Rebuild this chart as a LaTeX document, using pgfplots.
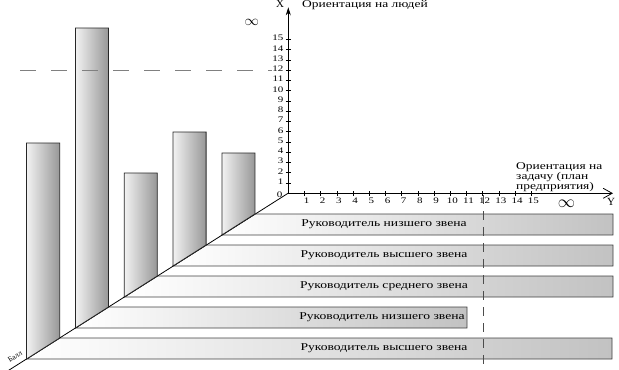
\documentclass[border=0pt]{standalone}
\usepackage{fontspec}
\setmainfont{Liberation Serif}
\newfontfamily\wideserif[FakeStretch=1.3]{Liberation Serif}
\usepackage{pgfplots}
\pgfplotsset{compat=1.18}
\usetikzlibrary{arrows.meta}
\definecolor{stripR}{HTML}{C2C2C2}
\definecolor{barL}{HTML}{F2F2F2}
\definecolor{barR}{HTML}{979797}
\begin{document}
\begin{tikzpicture}
% ---------- pixel-space layer: the floor strips, columns and guide lines ----------
\begin{axis}[
  at={(0,0)}, anchor=south west,
  scale only axis, width=619bp, height=370bp,
  xmin=0, xmax=619, ymin=0, ymax=370, y dir=reverse,
  hide axis, clip=false]
\addplot[draw=none] coordinates {(0,0) (619,370)};
% strips (Y direction: orientation on task)
\addplot[draw=black!75, line width=0.9pt, left color=white, right color=stripR] coordinates {(254.9,214) (613,214) (613,235) (221.9,235)} -- cycle;
\addplot[draw=black!75, line width=0.9pt, left color=white, right color=stripR] coordinates {(206.1,245) (613,245) (613,266) (173.0,266)} -- cycle;
\addplot[draw=black!75, line width=0.9pt, left color=white, right color=stripR] coordinates {(157.3,276) (613,276) (613,297) (124.2,297)} -- cycle;
\addplot[draw=black!75, line width=0.9pt, left color=white, right color=stripR] coordinates {(108.5,307) (467,307) (467,328) (75.4,328)} -- cycle;
\addplot[draw=black!75, line width=0.9pt, left color=white, right color=stripR] coordinates {(59.7,338) (612,338) (612,359) (26.6,359)} -- cycle;
% vertical dashed guide at 12 on Y
\addplot[black!70, line width=0.8pt, dash pattern=on 9bp off 7bp] coordinates {(483,195) (483,366)};
% diagonal "Балл" axis
\addplot[black, line width=0.8pt] coordinates {(288,193.3) (6,372)};
% columns (X direction: orientation on people)
\addplot[draw=black!85, line width=0.8pt, left color=barL, right color=barR] coordinates {(221.9,235) (254.9,214) (254.9,153) (221.9,153)} -- cycle;
\addplot[draw=black!85, line width=0.8pt, left color=barL, right color=barR] coordinates {(173.0,266) (206.1,245) (206.1,132) (173.0,132)} -- cycle;
\addplot[draw=black!85, line width=0.8pt, left color=barL, right color=barR] coordinates {(124.2,297) (157.3,276) (157.3,173) (124.2,173)} -- cycle;
\addplot[draw=black!85, line width=0.8pt, left color=barL, right color=barR] coordinates {(75.4,328) (108.5,307) (108.5,28) (75.4,28)} -- cycle;
\addplot[draw=black!85, line width=0.8pt, left color=barL, right color=barR] coordinates {(26.6,359) (59.7,338) (59.7,143) (26.6,143)} -- cycle;
% horizontal dashed guide at 12 on X
\addplot[black!50, line width=0.9pt, dash pattern=on 16bp off 15bp] coordinates {(20,70.5) (272,70.5)};
% texts
\node[font=\wideserif\fontsize{10.5}{12}\selectfont] at (axis cs:384,224.5) {Руководитель низшего звена};
\node[font=\wideserif\fontsize{10.5}{12}\selectfont] at (axis cs:384,255.5) {Руководитель высшего звена};
\node[font=\wideserif\fontsize{10.5}{12}\selectfont] at (axis cs:384,286.5) {Руководитель среднего звена};
\node[font=\wideserif\fontsize{10.5}{12}\selectfont] at (axis cs:382,317.5) {Руководитель низшего звена};
\node[font=\wideserif\fontsize{10.5}{12}\selectfont] at (axis cs:384,348.5) {Руководитель высшего звена};
\node[font=\wideserif\fontsize{10.4}{11}\selectfont, anchor=west, inner sep=0pt] at (axis cs:302,5.5) {Ориентация на людей};
\node[font=\wideserif\fontsize{10.4}{10}\selectfont, anchor=north west, align=left, inner sep=0pt] at (axis cs:516,162.5) {Ориентация на\\задачу (план\\предприятия)};
\node[font=\fontsize{11}{12}\selectfont, inner sep=0pt] at (axis cs:280,3.5) {X};
\node[font=\fontsize{11}{12}\selectfont, inner sep=0pt] at (axis cs:611,202) {Y};
\node[font=\fontsize{14}{14}\selectfont, inner sep=0pt] at (axis cs:251.7,22.5) {$\infty$};
\node[font=\fontsize{16}{16}\selectfont, inner sep=0pt] at (axis cs:566.5,203.5) {$\infty$};
\node[font=\wideserif\fontsize{8.5}{9}\selectfont, inner sep=0pt] at (axis cs:279.5,194.5) {0};
\node[font=\fontsize{7.5}{8}\selectfont, inner sep=0pt, rotate=32.4] at (axis cs:15,356.5) {Балл};
\end{axis}
% ---------- the X / Y coordinate axes ----------
\begin{axis}[
  at={(288.3bp,176.7bp)}, anchor=south west,
  scale only axis, width=324.7bp, height=186bp,
  xmin=0, xmax=20.04, ymin=0, ymax=18.15,
  axis lines=left,
  x axis line style={line width=0.8pt, -{Straight Barb[length=9bp,width=10bp]}},
  y axis line style={line width=0.8pt, -{Stealth[length=8bp,width=5bp]}},
  xtick={1,...,15}, ytick={1,...,15},
  tick align=center, major tick length=5bp,
  tick style={black, line width=0.7pt},
  /pgf/number format/assume math mode=true,
  tick label style={font=\wideserif\fontsize{8.5}{9}\selectfont},
  xticklabel style={xshift=2bp, yshift=1bp},
  yticklabel style={yshift=1.5bp, xshift=1bp},
  clip=false]
\addplot[draw=none] coordinates {(0,0)};
\end{axis}
\pgfresetboundingbox
\path (0,0) rectangle (619bp,370bp);
\end{tikzpicture}
\end{document}
